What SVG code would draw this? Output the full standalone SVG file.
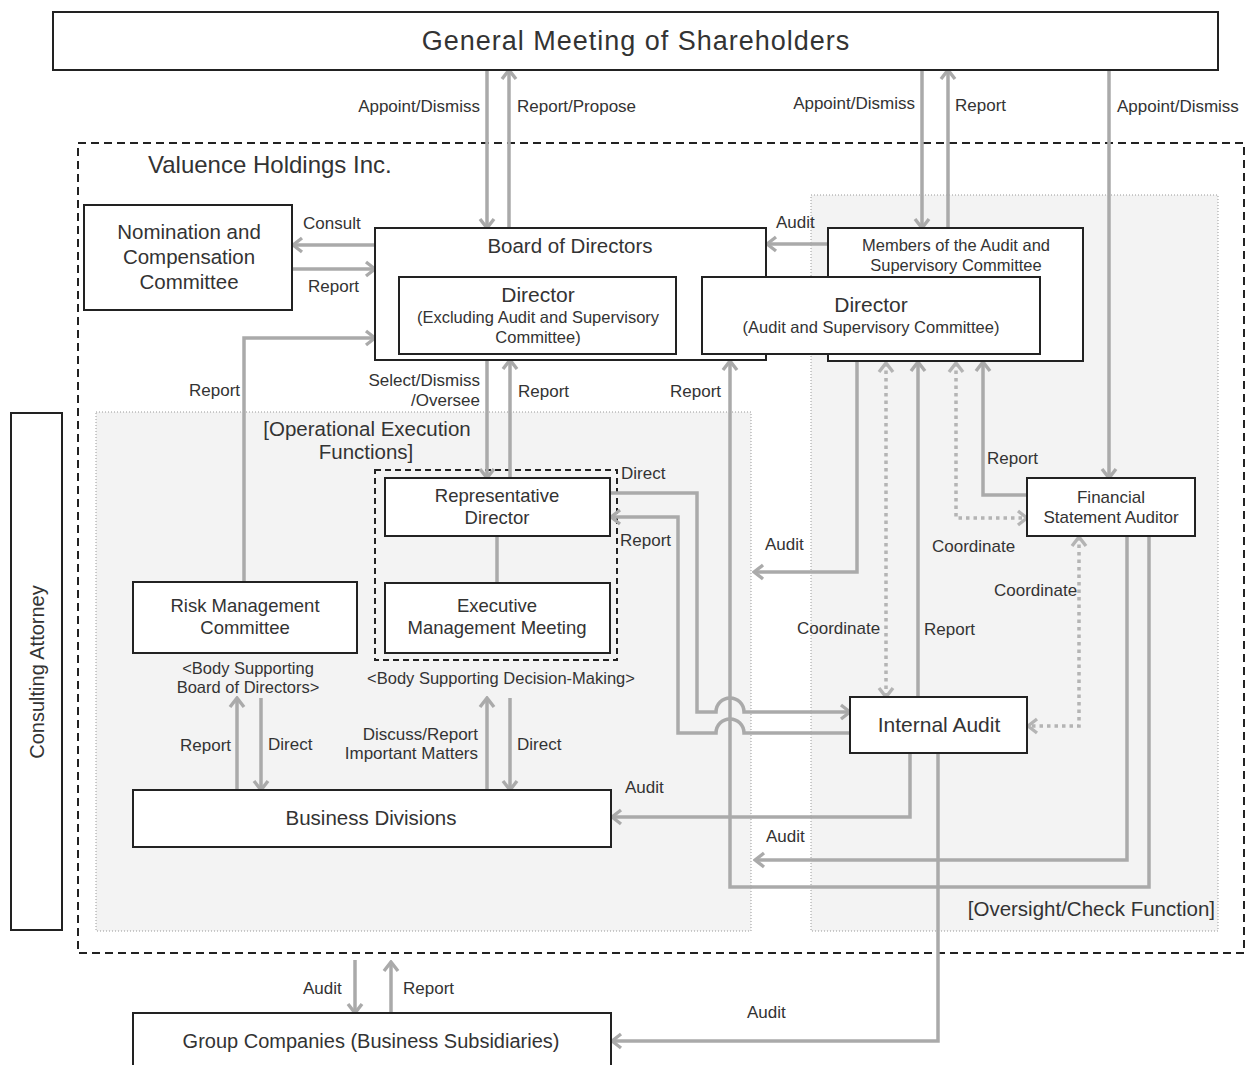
<svg xmlns="http://www.w3.org/2000/svg" width="1246" height="1065" viewBox="0 0 1246 1065">
<style>
text{font-family:"Liberation Sans",Arial,sans-serif;fill:#333}
.box{fill:#fff;stroke:#222;stroke-width:2}
.area{fill:#f3f3f3;stroke:#999;stroke-width:1;stroke-dasharray:1 2}
.c{fill:none;stroke:#aaa;stroke-width:3.5;marker-end:url(#a)}
.n{fill:none;stroke:#aaa;stroke-width:3.5}
.d{fill:none;stroke:#b4b4b4;stroke-width:3.5;stroke-dasharray:3.5 4;marker-end:url(#ad);marker-start:url(#ad)}
.l{font-size:17px}
.m{text-anchor:middle}
.e{text-anchor:end}
</style>
<defs>
<marker id="a" viewBox="0 0 13 18" refX="11" refY="9" markerWidth="13" markerHeight="18" markerUnits="userSpaceOnUse" orient="auto-start-reverse"><path d="M2,2 L11,9 L2,16" fill="none" stroke="#aaa" stroke-width="3.4"/></marker>
<marker id="ad" viewBox="0 0 13 18" refX="11" refY="9" markerWidth="13" markerHeight="18" markerUnits="userSpaceOnUse" orient="auto-start-reverse"><path d="M2,2 L11,9 L2,16" fill="none" stroke="#b4b4b4" stroke-width="3.4"/></marker>
</defs>
<rect width="1246" height="1065" fill="#fff"/>

<g id="areas">
<rect x="78" y="143" width="1166" height="810" fill="none" stroke="#222" stroke-width="2" stroke-dasharray="8 5"/>
<rect class="area" x="96" y="412" width="655" height="519"/>
<rect class="area" x="811" y="195" width="407" height="736"/>
<text x="148" y="173" font-size="24">Valuence Holdings Inc.</text>
<text class="m" x="367" y="436" font-size="20.5">[Operational Execution</text>
<text class="m" x="366" y="459" font-size="20.5">Functions]</text>
<text class="e" x="1215" y="916" font-size="20.5">[Oversight/Check Function]</text>
<rect x="375" y="470" width="242" height="190" fill="none" stroke="#222" stroke-width="2" stroke-dasharray="6 4"/>
<text class="m" x="501" y="684" font-size="16.5">&lt;Body Supporting Decision-Making&gt;</text>
<text class="m" x="248" y="674" font-size="16.5">&lt;Body Supporting</text>
<text class="m" x="248" y="693" font-size="16.5">Board of Directors&gt;</text>
</g>

<g id="connectors">
<path class="c" d="M487,70 V228"/>
<path class="c" d="M509,228 V70"/>
<path class="c" d="M922,70 V228"/>
<path class="c" d="M948,228 V70"/>
<path class="c" d="M1109,70 V478"/>
<path class="c" d="M375,245 H293"/>
<path class="c" d="M293,269 H375"/>
<path class="c" d="M828,244 H767"/>
<path class="c" d="M244,582 V338 H375"/>
<path class="c" d="M487,360 V478"/>
<path class="c" d="M510,478 V360"/>
<path class="n" d="M497,536 V583"/>
<path class="c" d="M1149,536 V887 H730 V361"/>
<path class="c" d="M1127,536 V860 H755"/>
<path class="c" d="M857,361 V572 H754"/>
<path class="d" d="M886,363 V697"/>
<path class="c" d="M918,697 V362"/>
<path class="d" d="M956,363 V518 H1027"/>
<path class="c" d="M1027,495 H983 V362"/>
<path class="d" d="M1079,537 V726 H1028"/>
<path class="c" d="M610,493 H697 V712 H716 A14,14 0 0 1 744,712 H850"/>
<path class="c" d="M850,733 H744 A14,14 0 0 0 716,733 H678 V517 H611"/>
<path class="c" d="M910,753 V817 H612"/>
<path class="c" d="M938,753 V1041 H612"/>
<path class="c" d="M237,790 V698"/>
<path class="c" d="M261,698 V790"/>
<path class="c" d="M487,790 V698"/>
<path class="c" d="M510,698 V790"/>
<path class="c" d="M355,960 V1013"/>
<path class="c" d="M391,1013 V962"/>
</g>

<g id="labels" class="l">
<text class="l e" x="480" y="112">Appoint/Dismiss</text>
<text class="l" x="517" y="112">Report/Propose</text>
<text class="l e" x="915" y="109">Appoint/Dismiss</text>
<text class="l" x="955" y="111">Report</text>
<text class="l" x="1117" y="112">Appoint/Dismiss</text>
<text class="l" x="303" y="229">Consult</text>
<text class="l" x="308" y="292">Report</text>
<text class="l" x="776" y="228">Audit</text>
<text class="l" x="189" y="396">Report</text>
<text class="l e" x="480" y="386">Select/Dismiss</text>
<text class="l e" x="480" y="406">/Oversee</text>
<text class="l" x="518" y="397">Report</text>
<text class="l" x="670" y="397">Report</text>
<text class="l" x="621" y="479">Direct</text>
<text class="l" x="620" y="546">Report</text>
<text class="l" x="765" y="550">Audit</text>
<text class="l" x="932" y="552">Coordinate</text>
<text class="l" x="987" y="464">Report</text>
<text class="l" x="994" y="596">Coordinate</text>
<text class="l" x="797" y="634">Coordinate</text>
<text class="l" x="924" y="635">Report</text>
<text class="l" x="180" y="751">Report</text>
<text class="l" x="268" y="750">Direct</text>
<text class="l e" x="478" y="740">Discuss/Report</text>
<text class="l e" x="478" y="759">Important Matters</text>
<text class="l" x="517" y="750">Direct</text>
<text class="l" x="625" y="793">Audit</text>
<text class="l" x="766" y="842">Audit</text>
<text class="l" x="303" y="994">Audit</text>
<text class="l" x="403" y="994">Report</text>
<text class="l" x="747" y="1018">Audit</text>
</g>

<g id="gms">
<rect class="box" x="53" y="12" width="1165" height="58"/>
<text class="m" x="636" y="50" font-size="27" letter-spacing="1">General Meeting of Shareholders</text>
</g>
<g id="nomination">
<rect class="box" x="84" y="205" width="208" height="105"/>
<text class="m" x="189" y="239" font-size="20.5">Nomination and</text>
<text class="m" x="189" y="264" font-size="20.5">Compensation</text>
<text class="m" x="189" y="289" font-size="20.5">Committee</text>
</g>
<g id="board">
<rect class="box" x="375" y="228" width="391" height="132"/>
<text class="m" x="570" y="253" font-size="20.5">Board of Directors</text>
</g>
<g id="members">
<rect class="box" x="828" y="228" width="255" height="133"/>
<text class="m" x="956" y="251" font-size="16.5">Members of the Audit and</text>
<text class="m" x="956" y="271" font-size="16.5">Supervisory Committee</text>
</g>
<g id="director-excl">
<rect class="box" x="399" y="277" width="277" height="77"/>
<text class="m" x="538" y="302" font-size="21">Director</text>
<text class="m" x="538" y="323" font-size="16.5">(Excluding Audit and Supervisory</text>
<text class="m" x="538" y="343" font-size="16.5">Committee)</text>
</g>
<g id="director-audit">
<rect class="box" x="702" y="277" width="338" height="77"/>
<text class="m" x="871" y="312" font-size="21">Director</text>
<text class="m" x="871" y="333" font-size="16.5">(Audit and Supervisory Committee)</text>
</g>
<g id="rep-director">
<rect class="box" x="385" y="478" width="225" height="58"/>
<text class="m" x="497" y="502" font-size="18.5">Representative</text>
<text class="m" x="497" y="524" font-size="18.5">Director</text>
</g>
<g id="exec-meeting">
<rect class="box" x="385" y="583" width="225" height="70"/>
<text class="m" x="497" y="612" font-size="18.5">Executive</text>
<text class="m" x="497" y="634" font-size="18.5">Management Meeting</text>
</g>
<g id="risk">
<rect class="box" x="133" y="582" width="224" height="71"/>
<text class="m" x="245" y="612" font-size="18.5">Risk Management</text>
<text class="m" x="245" y="634" font-size="18.5">Committee</text>
</g>
<g id="fsa">
<rect class="box" x="1027" y="478" width="168" height="58"/>
<text class="m" x="1111" y="503" font-size="17">Financial</text>
<text class="m" x="1111" y="523" font-size="17">Statement Auditor</text>
</g>
<g id="internal-audit">
<rect class="box" x="850" y="697" width="177" height="56"/>
<text class="m" x="939" y="732" font-size="21">Internal Audit</text>
</g>
<g id="business">
<rect class="box" x="133" y="790" width="478" height="57"/>
<text class="m" x="371" y="825" font-size="20.5">Business Divisions</text>
</g>
<g id="group">
<rect class="box" x="133" y="1013" width="478" height="70"/>
<text class="m" x="371" y="1048" font-size="20">Group Companies (Business Subsidiaries)</text>
</g>
<g id="attorney">
<rect class="box" x="11" y="413" width="51" height="517"/>
<text class="m" x="0" y="0" font-size="20" transform="translate(44,672) rotate(-90)">Consulting Attorney</text>
</g>
</svg>
